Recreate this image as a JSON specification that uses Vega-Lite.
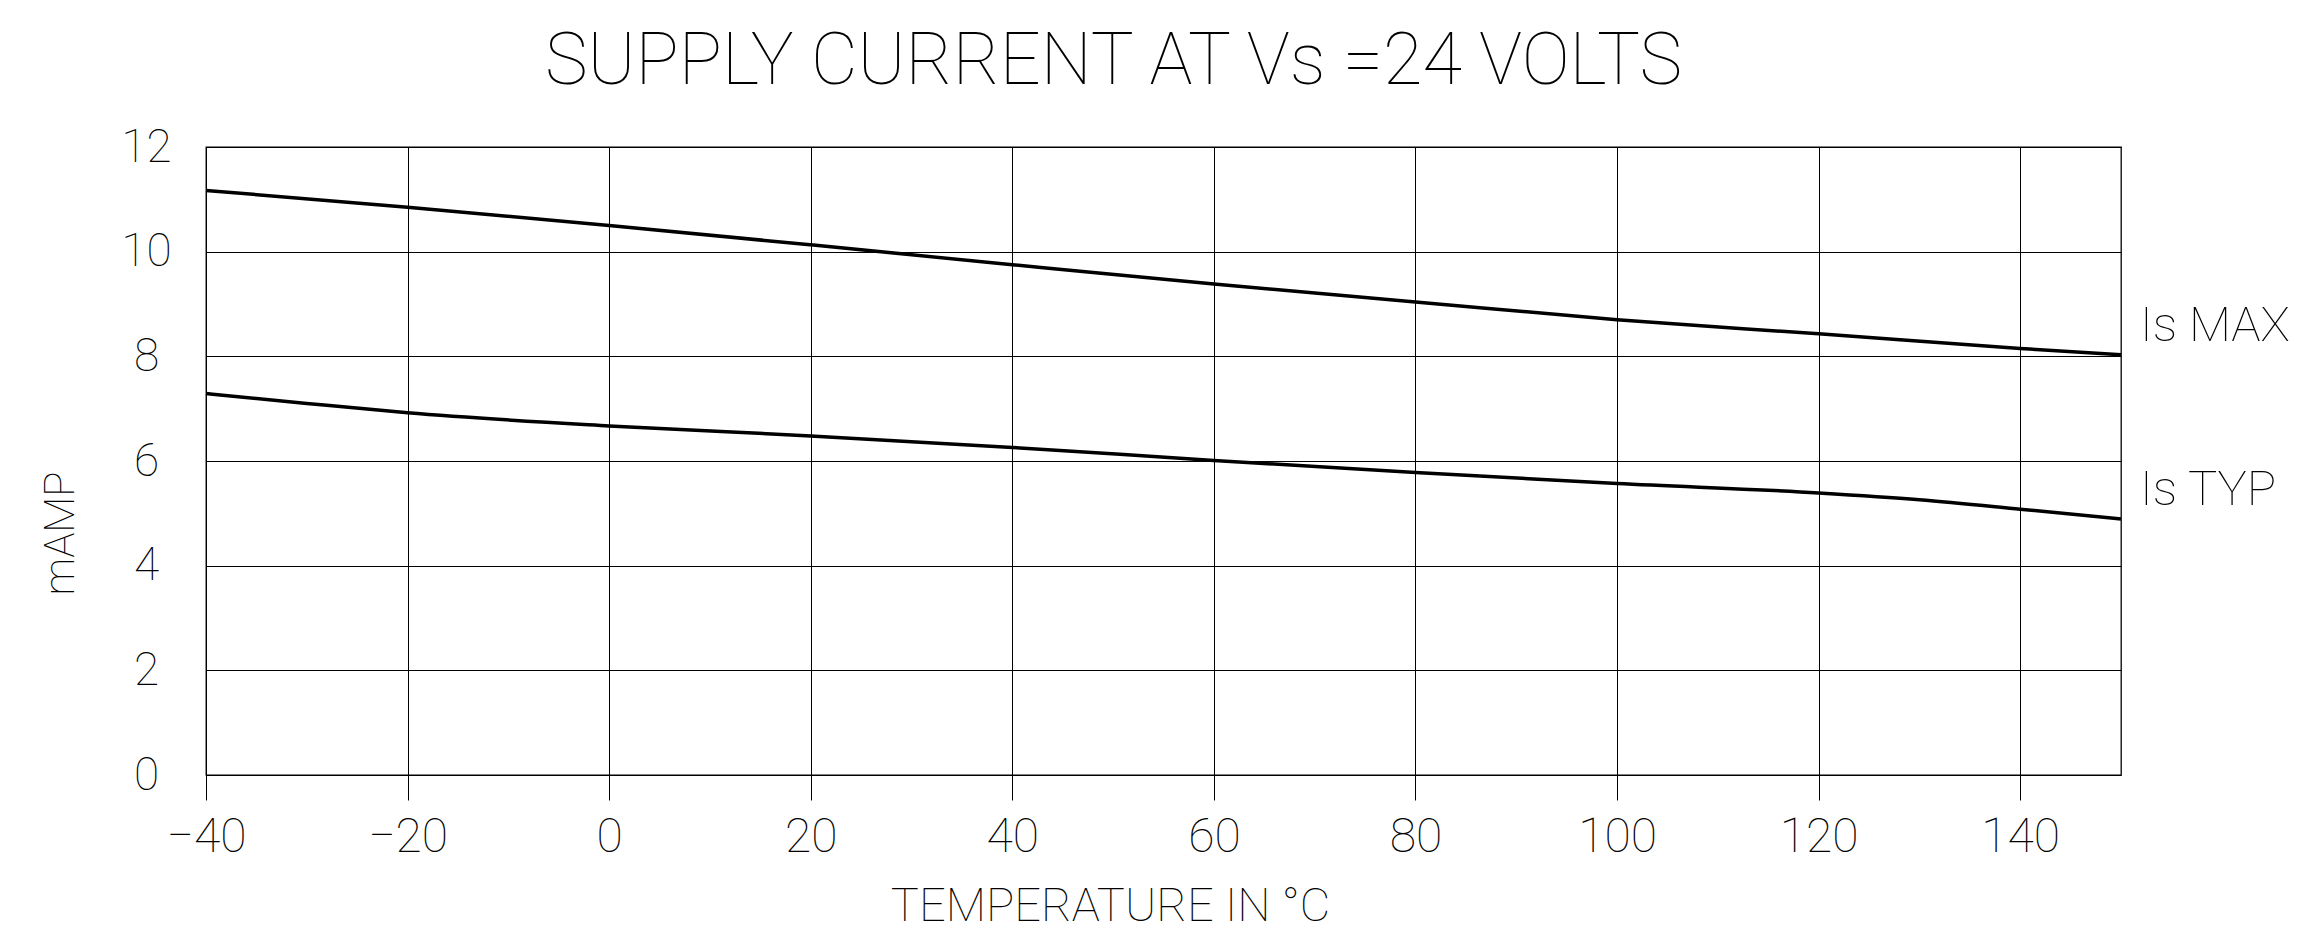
{
  "$schema": "https://vega.github.io/schema/vega-lite/v6.json",
  "width": 1915,
  "height": 628,
  "autosize": {"type": "none"},
  "padding": {"left": 206, "top": 147, "right": 184, "bottom": 157},
  "background": "white",
  "title": {
    "text": "SUPPLY CURRENT AT Vs =24 VOLTS",
    "anchor": "middle",
    "baseline": "alphabetic",
    "offset": 40,
    "dx": -50,
    "dy": 72,
    "fontSize": 72,
    "font": "Roboto",
    "fontWeight": 100,
    "color": "black"
  },
  "config": {
    "view": {"stroke": "black", "strokeWidth": 1.3},
    "font": "Roboto"
  },
  "data": {
    "values": [
      {"temp": -40, "value": 11.17, "series": "Is MAX"},
      {"temp": -20, "value": 10.85, "series": "Is MAX"},
      {"temp": 0, "value": 10.5, "series": "Is MAX"},
      {"temp": 20, "value": 10.13, "series": "Is MAX"},
      {"temp": 40, "value": 9.75, "series": "Is MAX"},
      {"temp": 60, "value": 9.38, "series": "Is MAX"},
      {"temp": 80, "value": 9.04, "series": "Is MAX"},
      {"temp": 100, "value": 8.7, "series": "Is MAX"},
      {"temp": 120, "value": 8.43, "series": "Is MAX"},
      {"temp": 140, "value": 8.15, "series": "Is MAX"},
      {"temp": 150, "value": 8.03, "series": "Is MAX"},
      {"temp": -40, "value": 7.29, "series": "Is TYP"},
      {"temp": -30, "value": 7.1, "series": "Is TYP"},
      {"temp": -20, "value": 6.92, "series": "Is TYP"},
      {"temp": 0, "value": 6.67, "series": "Is TYP"},
      {"temp": 20, "value": 6.48, "series": "Is TYP"},
      {"temp": 40, "value": 6.26, "series": "Is TYP"},
      {"temp": 60, "value": 6.01, "series": "Is TYP"},
      {"temp": 80, "value": 5.78, "series": "Is TYP"},
      {"temp": 100, "value": 5.57, "series": "Is TYP"},
      {"temp": 120, "value": 5.39, "series": "Is TYP"},
      {"temp": 130, "value": 5.26, "series": "Is TYP"},
      {"temp": 140, "value": 5.08, "series": "Is TYP"},
      {"temp": 150, "value": 4.89, "series": "Is TYP"}
    ]
  },
  "layer": [
    {
      "mark": {"type": "line", "color": "black", "strokeWidth": 3.5, "interpolate": "monotone"},
      "encoding": {
        "x": {
          "field": "temp",
          "type": "quantitative",
          "scale": {"domain": [-40, 150], "nice": false, "zero": false},
          "axis": {
            "values": [-40, -20, 0, 20, 40, 60, 80, 100, 120, 140],
            "grid": true,
            "gridColor": "black",
            "gridWidth": 1,
            "gridOpacity": 1,
            "domain": false,
            "ticks": true,
            "tickSize": 25,
            "tickColor": "black",
            "tickWidth": 1,
            "labelFont": "Roboto",
            "labelFontWeight": 100,
            "labelFontSize": 48,
            "labelColor": "black",
            "labelPadding": 13,
            "labelFlush": false,
            "labelOverlap": false,
            "title": "TEMPERATURE IN °C",
            "titleFont": "Roboto",
            "titleFontWeight": 100,
            "titleFontSize": 47,
            "titleColor": "black",
            "titleAlign": "center",
            "titleBaseline": "alphabetic",
            "titleX": 904,
            "titleY": 145
          }
        },
        "y": {
          "field": "value",
          "type": "quantitative",
          "scale": {"domain": [0, 12], "nice": false},
          "axis": {
            "values": [0, 2, 4, 6, 8, 10, 12],
            "grid": true,
            "gridColor": "black",
            "gridWidth": 1,
            "gridOpacity": 1,
            "domain": false,
            "ticks": false,
            "tickSize": 0,
            "labelFont": "Roboto",
            "labelFontWeight": 100,
            "labelFontSize": 46,
            "labelColor": "black",
            "labelAlign": "center",
            "labelBaseline": "middle",
            "labelPadding": 60,
            "labelFlush": false,
            "labelOverlap": false,
            "title": "mAMP",
            "titleFont": "Roboto",
            "titleFontWeight": 100,
            "titleFontSize": 42,
            "titleColor": "black",
            "titleAngle": -90,
            "titleAlign": "center",
            "titleBaseline": "alphabetic",
            "titleX": -133,
            "titleY": 386
          }
        },
        "detail": {"field": "series", "type": "nominal"}
      }
    },
    {
      "transform": [{"filter": "datum.temp == 150"}],
      "mark": {
        "type": "text",
        "align": "left",
        "baseline": "alphabetic",
        "dx": 19,
        "dy": -14,
        "fontSize": 49,
        "font": "Roboto",
        "fontWeight": 100,
        "color": "black"
      },
      "encoding": {
        "x": {"field": "temp", "type": "quantitative"},
        "y": {"field": "value", "type": "quantitative"},
        "text": {"field": "series", "type": "nominal"}
      }
    }
  ]
}
